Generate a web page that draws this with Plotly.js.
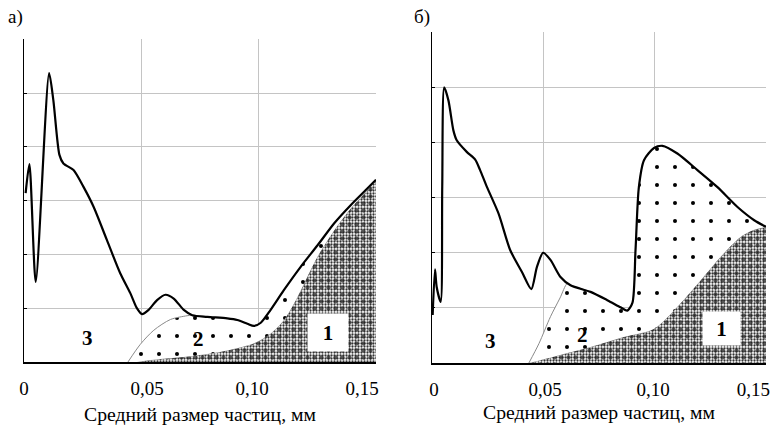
<!DOCTYPE html>
<html>
<head>
<meta charset="utf-8">
<script src="https://cdn.plot.ly/plotly-3.0.1.min.js"></script>
<style>html,body{margin:0;padding:0;background:#fff;}#chart{width:771px;height:426px;}</style>
</head>
<body>
<div id="chart"></div>
<script>
// ---------- Panel а) ----------
const totalA_x = [0.0007, 0.0023, 0.005, 0.0107, 0.0125, 0.0151, 0.0168, 0.0211, 0.0253, 0.0296, 0.0353, 0.041, 0.0453, 0.0481, 0.0503, 0.0531, 0.0567, 0.0603, 0.0638, 0.0681, 0.0717, 0.0781, 0.0866, 0.0909, 0.0952, 0.098, 0.1009, 0.1051, 0.1108, 0.1179, 0.1251, 0.1322, 0.1393, 0.1464, 0.15];
const totalA_y = [3.14, 3.68, 1.49, 5.37, 4.87, 3.85, 3.69, 3.57, 3.26, 2.89, 2.27, 1.65, 1.28, 1.0, 0.89, 0.97, 1.15, 1.25, 1.18, 0.97, 0.87, 0.84, 0.81, 0.78, 0.71, 0.67, 0.73, 0.97, 1.34, 1.77, 2.17, 2.58, 2.92, 3.23, 3.39];
const frac2EdgeA_x = [0.0443, 0.0496, 0.0553, 0.0624, 0.0695];
const frac2EdgeA_y = [0.0, 0.33, 0.59, 0.79, 0.86];
const frac1A_x = [0.048, 0.055, 0.0695, 0.0838, 0.098, 0.1051, 0.1108, 0.1151, 0.1187, 0.1251, 0.1322, 0.1393, 0.1464, 0.15];
const frac1A_y = [0.0, 0.04, 0.1, 0.19, 0.35, 0.53, 0.78, 1.09, 1.4, 1.96, 2.45, 2.86, 3.2, 3.38];

// ---------- Panel б) ----------
const totalB_x = [0.0003, 0.00135, 0.0021, 0.0039, 0.0046, 0.0055, 0.0074, 0.0096, 0.0111, 0.0156, 0.0194, 0.0216, 0.0246, 0.0299, 0.0351, 0.0404, 0.0446, 0.0471, 0.0499, 0.0532, 0.0577, 0.0622, 0.0712, 0.0787, 0.0847, 0.0877, 0.09, 0.0914, 0.0929, 0.0952, 0.0997, 0.1035, 0.1102, 0.1192, 0.1282, 0.1372, 0.1447, 0.15];
const totalB_y = [0.87, 1.70, 1.38, 1.11, 3.2, 5.0, 4.76, 4.22, 4.04, 3.83, 3.69, 3.5, 3.2, 2.71, 2.05, 1.65, 1.34, 1.74, 2.0, 1.87, 1.56, 1.41, 1.29, 1.14, 1.01, 0.95, 1.09, 2.05, 3.19, 3.68, 3.9, 3.94, 3.8, 3.5, 3.19, 2.83, 2.59, 2.47];
const frac2EdgeB_x = [0.0435, 0.048, 0.0532, 0.0575, 0.0607];
const frac2EdgeB_y = [0.0, 0.35, 0.84, 1.18, 1.44];
const frac1B_x = [0.0435, 0.055, 0.0712, 0.086, 0.0997, 0.1102, 0.1207, 0.1297, 0.1387, 0.145, 0.15];
const frac1B_y = [0.0, 0.12, 0.29, 0.47, 0.62, 1.02, 1.5, 1.93, 2.29, 2.42, 2.47];

// ---------- Texts ----------
const panelLabels = ['а)', 'б)'];
const xTickText = ['0', '0,05', '0,10', '0,15'];
const xTitle = 'Средний размер частиц, мм';
const zoneLabels = ['1', '2', '3'];

const SERIF = 'Liberation Serif';

function upperEdge(ex, ey, tx, ty) {
  const xs = ex.slice(), ys = ey.slice();
  const last = ex[ex.length - 1];
  for (let i = 0; i < tx.length; i++) {
    if (tx[i] > last + 0.001) { xs.push(tx[i]); ys.push(ty[i]); }
  }
  return [xs, ys];
}

function panelTraces(f1x, f1y, ex, ey, tx, ty, xa, ya) {
  const [ux, uy] = upperEdge(ex, ey, tx, ty);
  return [
    { x: f1x, y: f1y, xaxis: xa, yaxis: ya, type: 'scatter', mode: 'lines',
      line: { color: '#8a8a8a', width: 1, shape: 'spline', smoothing: 0.8 },
      fill: 'tozeroy', fillcolor: '#ffffff',
      fillpattern: { shape: '.', size: 3, solidity: 0.45, fgcolor: '#333333', bgcolor: '#ffffff', fillmode: 'replace' },
      hoverinfo: 'skip', showlegend: false },
    { x: f1x, y: f1y, xaxis: xa, yaxis: ya, type: 'scatter', mode: 'lines',
      line: { color: 'rgba(0,0,0,0)', width: 0, shape: 'spline', smoothing: 0.8 },
      fill: 'tozeroy', fillcolor: 'rgba(0,0,0,0)',
      fillpattern: { shape: '.', size: 7, solidity: 0.3, fgcolor: 'rgba(30,30,30,0.7)', bgcolor: 'rgba(0,0,0,0)', fillmode: 'replace' },
      hoverinfo: 'skip', showlegend: false },
    { x: ux, y: uy, xaxis: xa, yaxis: ya, type: 'scatter', mode: 'lines',
      line: { color: '#8a8a8a', width: 1, shape: 'spline', smoothing: 0.8 },
      fill: 'tonexty', fillcolor: '#ffffff',
      fillpattern: { shape: '.', size: 18, solidity: 0.04, fgcolor: '#000000', bgcolor: '#ffffff', fillmode: 'replace' },
      hoverinfo: 'skip', showlegend: false },
    { x: tx, y: ty, xaxis: xa, yaxis: ya, type: 'scatter', mode: 'lines',
      line: { color: '#000000', width: 2.2, shape: 'spline', smoothing: 0.7 },
      hoverinfo: 'skip', showlegend: false }
  ];
}

const traces = [].concat(
  panelTraces(frac1A_x, frac1A_y, frac2EdgeA_x, frac2EdgeA_y, totalA_x, totalA_y, 'x', 'y'),
  panelTraces(frac1B_x, frac1B_y, frac2EdgeB_x, frac2EdgeB_y, totalB_x, totalB_y, 'x2', 'y2')
);

function xAxis(domain, labelPos, anchor, standoff) {
  return {
    domain: domain, anchor: anchor, range: [0, 0.15],
    showline: true, linecolor: '#000', linewidth: 1.5,
    zeroline: false, showgrid: false,
    tickmode: 'array', tickvals: labelPos, ticktext: xTickText, ticks: '',
    ticklabelstandoff: 9,
    tickfont: { family: SERIF, size: 19, color: '#000' },
    minor: { tickmode: 'array', tickvals: [0.05, 0.1, 0.15], showgrid: true, gridcolor: '#c4c4c4', gridwidth: 1, ticks: '' },
    title: { text: xTitle, font: { family: SERIF, size: 19.7, color: '#000' }, standoff: standoff },
    fixedrange: true
  };
}
function yAxis(domain, anchor) {
  return {
    domain: domain, anchor: anchor, range: [0, 6.005],
    showline: true, linecolor: '#000', linewidth: 1.5,
    zeroline: false, showgrid: true, gridcolor: '#c4c4c4', gridwidth: 1,
    dtick: 1, tick0: 0, ticks: 'inside', ticklen: 3, tickcolor: '#000', tickwidth: 1,
    showticklabels: false, fixedrange: true
  };
}

function zoneAnn(xref, yref, x, y, text, box) {
  const a = { xref: xref, yref: yref, x: x, y: y, text: '<b>' + text + '</b>', showarrow: false,
    font: { family: SERIF, size: 21, color: '#000' }, xanchor: 'center', yanchor: 'middle' };
  if (box) { a.bgcolor = '#ffffff'; a.width = box[0]; a.height = box[1]; a.borderpad = 0; }
  return a;
}

const layout = {
  width: 771, height: 426,
  font: { family: SERIF, size: 18, color: '#000' },
  margin: { l: 0, r: 0, t: 0, b: 0 },
  paper_bgcolor: '#fff', plot_bgcolor: '#fff',
  showlegend: false,
  xaxis: xAxis([24 / 771, 376 / 771], [0.0, 0.0525, 0.0972, 0.1441], 'y', 9),
  yaxis: yAxis([(426 - 362) / 426, (426 - 39) / 426], 'x'),
  xaxis2: xAxis([432 / 771, 766 / 771], [0.0009, 0.0508, 0.0993, 0.1443], 'y2', 6),
  yaxis2: yAxis([(426 - 363) / 426, (426 - 32) / 426], 'x2'),
  annotations: [
    { xref: 'paper', yref: 'paper', x: 6 / 771, y: (426 - 17) / 426, text: panelLabels[0], showarrow: false,
      xanchor: 'left', yanchor: 'middle', font: { family: SERIF, size: 19, color: '#000' } },
    { xref: 'paper', yref: 'paper', x: 412 / 771, y: (426 - 17) / 426, text: panelLabels[1], showarrow: false,
      xanchor: 'left', yanchor: 'middle', font: { family: SERIF, size: 19, color: '#000' } },
    zoneAnn('x', 'y', 0.1297, 0.54, zoneLabels[0], [40, 37]),
    zoneAnn('x', 'y', 0.0743, 0.43, zoneLabels[1]),
    zoneAnn('x', 'y', 0.0269, 0.45, zoneLabels[2]),
    zoneAnn('x2', 'y2', 0.130, 0.625, zoneLabels[0], [37, 33]),
    zoneAnn('x2', 'y2', 0.0678, 0.51, zoneLabels[1]),
    zoneAnn('x2', 'y2', 0.0261, 0.40, zoneLabels[2])
  ]
};

Plotly.newPlot('chart', traces, layout, { staticPlot: true, displayModeBar: false });
</script>
</body>
</html>
